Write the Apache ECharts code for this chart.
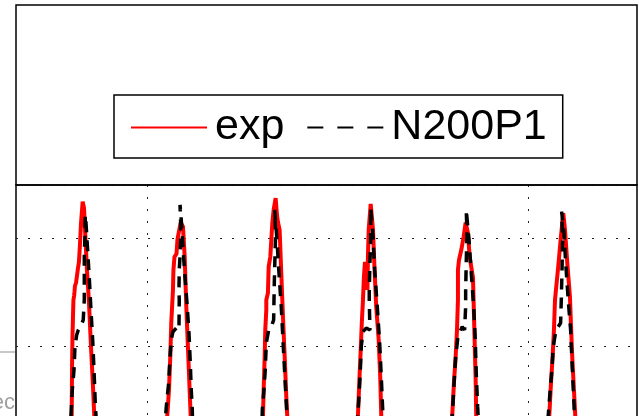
<!DOCTYPE html>
<html>
<head>
<meta charset="utf-8">
<script src="https://cdn.jsdelivr.net/npm/echarts@6/dist/echarts.min.js"></script>
<style>
html, body { margin: 0; padding: 0; background: #fff; }
#chart { width: 639px; height: 416px; }
</style>
</head>
<body>
<div id="chart"></div>
<script>
// legend names
var seriesNames = ['exp', 'N200P1'];
// x ticks (top axis), y grid step
var xTicks = [2, 6];
var yStep = 0.5;

// exp: measured peaks, [x, y]
var exp1 = [[1.204,0],[1.210,0.176],[1.213,0.389],[1.218,0.542],[1.223,0.630],[1.228,0.713],[1.236,0.735],[1.239,0.750],[1.244,0.778],[1.255,0.792],[1.265,0.824],[1.276,0.861],[1.286,0.889],[1.297,0.972],[1.307,1.065],[1.325,1.168],[1.339,1.139],[1.354,1.000],[1.370,0.852],[1.391,0.704],[1.412,0.500],[1.433,0.315],[1.447,0.176],[1.454,0]];
var exp2 = [[2.205,0],[2.213,0.176],[2.231,0.296],[2.245,0.450],[2.255,0.606],[2.273,0.759],[2.278,0.852],[2.289,0.912],[2.310,0.926],[2.320,0.991],[2.333,1.023],[2.354,1.071],[2.378,1.052],[2.396,0.913],[2.413,0.682],[2.430,0.497],[2.448,0.296],[2.459,0.176],[2.465,0]];
var exp3 = [[3.213,0],[3.218,0.176],[3.225,0.296],[3.236,0.450],[3.242,0.574],[3.253,0.667],[3.253,0.713],[3.270,0.745],[3.278,0.867],[3.295,0.913],[3.316,1.069],[3.330,1.130],[3.351,1.184],[3.365,1.106],[3.375,1.074],[3.393,1.037],[3.410,0.838],[3.428,0.636],[3.446,0.450],[3.463,0.265],[3.473,0.176],[3.480,0]];
var exp4 = [[4.210,0],[4.215,0.176],[4.229,0.329],[4.244,0.481],[4.257,0.620],[4.268,0.713],[4.278,0.821],[4.289,0.889],[4.302,0.861],[4.315,0.759],[4.320,0.913],[4.328,1.037],[4.349,1.157],[4.373,1.037],[4.391,0.838],[4.407,0.682],[4.433,0.528],[4.449,0.358],[4.460,0.176],[4.467,0]];
var exp5 = [[5.197,0],[5.205,0.176],[5.223,0.329],[5.241,0.450],[5.255,0.574],[5.265,0.713],[5.265,0.852],[5.276,0.898],[5.300,0.944],[5.325,1.006],[5.346,1.071],[5.370,1.023],[5.388,0.913],[5.423,0.815],[5.430,0.699],[5.440,0.528],[5.451,0.343],[5.457,0.176],[5.465,0]];
var exp6 = [[6.215,0],[6.224,0.176],[6.242,0.329],[6.259,0.450],[6.273,0.574],[6.284,0.713],[6.294,0.759],[6.318,0.867],[6.343,0.991],[6.371,1.114],[6.389,1.037],[6.413,0.884],[6.441,0.728],[6.451,0.606],[6.465,0.450],[6.483,0.296],[6.497,0.176],[6.504,0]];

// N200P1: simulated peaks, [x, y]
var sim1 = [[1.197,0],[1.202,0.176],[1.216,0.296],[1.234,0.389],[1.244,0.495],[1.262,0.551],[1.279,0.574],[1.304,0.593],[1.331,0.620],[1.342,0.713],[1.342,0.838],[1.342,0.931],[1.349,1.005],[1.352,1.106],[1.360,1.069],[1.377,0.944],[1.394,0.819],[1.412,0.667],[1.430,0.528],[1.444,0.389],[1.457,0.236],[1.465,0.176],[1.470,0]];
var sim2 = [[2.189,0],[2.196,0.176],[2.203,0.219],[2.228,0.329],[2.242,0.450],[2.255,0.528],[2.273,0.566],[2.308,0.583],[2.336,0.574],[2.339,0.713],[2.336,0.759],[2.339,0.852],[2.347,0.913],[2.354,0.991],[2.354,1.069],[2.347,1.153],[2.357,1.106],[2.373,0.991],[2.396,0.838],[2.423,0.682],[2.441,0.560],[2.455,0.421],[2.465,0.296],[2.476,0.204],[2.483,0]];
var sim3 = [[3.202,0],[3.211,0.204],[3.228,0.296],[3.242,0.389],[3.253,0.514],[3.278,0.574],[3.305,0.589],[3.330,0.620],[3.333,0.699],[3.337,0.792],[3.344,0.913],[3.351,1.023],[3.341,1.130],[3.365,0.991],[3.386,0.838],[3.410,0.682],[3.428,0.528],[3.446,0.375],[3.463,0.236],[3.470,0.176],[3.475,0]];
var sim4 = [[4.205,0],[4.212,0.176],[4.226,0.265],[4.239,0.375],[4.250,0.497],[4.268,0.566],[4.302,0.583],[4.341,0.574],[4.334,0.713],[4.334,0.759],[4.341,0.884],[4.349,0.991],[4.349,1.139],[4.373,1.006],[4.391,0.852],[4.418,0.682],[4.443,0.514],[4.460,0.358],[4.475,0.204],[4.481,0]];
var sim5 = [[5.197,0],[5.205,0.176],[5.213,0.236],[5.226,0.343],[5.241,0.450],[5.265,0.543],[5.310,0.589],[5.335,0.574],[5.346,0.682],[5.346,0.759],[5.352,0.884],[5.360,1.023],[5.352,1.130],[5.381,0.991],[5.405,0.838],[5.430,0.682],[5.447,0.528],[5.457,0.375],[5.472,0.219],[5.477,0.176],[5.484,0]];
var sim6 = [[6.205,0],[6.213,0.176],[6.231,0.282],[6.249,0.375],[6.266,0.497],[6.294,0.574],[6.318,0.589],[6.343,0.606],[6.350,0.713],[6.357,0.838],[6.364,0.991],[6.354,1.122],[6.378,1.023],[6.399,0.867],[6.423,0.713],[6.448,0.574],[6.465,0.404],[6.483,0.236],[6.488,0.176],[6.493,0]];

var expData = [].concat(exp1, exp2, exp3, exp4, exp5, exp6);
var simData = [].concat(sim1, sim2, sim3, sim4, sim5, sim6);

var dotted = { color: '#222', width: 1, type: [2, 10] };

var chart = echarts.init(document.getElementById('chart'));
var option = {
    animation: false,
    backgroundColor: '#fff',
    grid: {
        left: 16, top: 185, width: 621, height: 269,
        outerBoundsMode: 'none',
        show: true, borderColor: '#000', borderWidth: 1.5
    },
    legend: {
        left: 114, top: 95,
        padding: [11, 16, 9, 16],
        itemGap: 22,
        itemWidth: 76, itemHeight: 20,
        borderColor: '#000', borderWidth: 1.5, borderRadius: 0,
        backgroundColor: '#fff',
        textStyle: { fontFamily: 'Liberation Sans, Arial, sans-serif', fontSize: 43, color: '#000', padding: [0, 0, 0, 3] },
        data: [
            { name: seriesNames[0], itemStyle: { opacity: 0 }, lineStyle: { width: 2 } },
            { name: seriesNames[1], itemStyle: { opacity: 0 }, lineStyle: { width: 2, type: [16, 14] } }
        ]
    },
    xAxis: {
        type: 'value', position: 'top',
        min: 0.625, max: 7.145,
        axisLine: { show: false },
        axisTick: { show: true, inside: true, length: 11, customValues: xTicks, lineStyle: { color: '#000', width: 1.5 } },
        axisLabel: { show: false },
        splitLine: { show: true, lineStyle: dotted }
    },
    yAxis: {
        type: 'value', min: 0, max: 1.245, interval: yStep,
        axisLine: { show: false },
        axisTick: { show: false },
        axisLabel: { show: false },
        splitLine: { show: true, lineStyle: dotted }
    },
    series: [
        {
            name: seriesNames[0], type: 'line', data: expData,
            symbol: 'none', showSymbol: false,
            lineStyle: { color: '#ff0000', width: 4 },
            itemStyle: { color: '#ff0000' }
        },
        {
            name: seriesNames[1], type: 'line', data: simData,
            symbol: 'none', showSymbol: false,
            lineStyle: { color: '#000', width: 3.5, type: [11, 8] },
            itemStyle: { color: '#000' }
        }
    ],
    graphic: [
        // empty upper axes box holding the legend
        { type: 'rect', shape: { x: 16, y: 5, width: 621, height: 180 }, style: { fill: 'none', stroke: '#000', lineWidth: 1.5 }, z: 100 },
        { type: 'line', shape: { x1: 0, y1: 352, x2: 15, y2: 352 }, style: { stroke: '#b4b4b4', lineWidth: 1.5 } },
        { type: 'text', x: 15, y: 414, style: { text: 'ec', fill: '#a0a0a0', font: '22px Liberation Sans', align: 'right', verticalAlign: 'bottom' } }
    ]
};
chart.setOption(option);
</script>
</body>
</html>
